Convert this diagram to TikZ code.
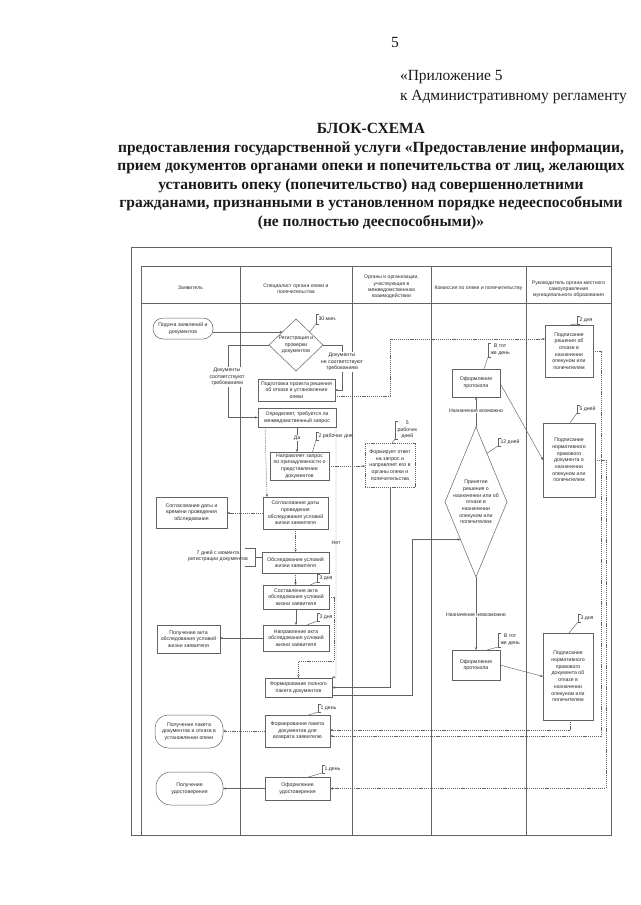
\documentclass[tikz,border=0pt]{standalone}
\usepackage{fontspec}
\setmainfont{Liberation Serif}
\newfontfamily\dsf{Liberation Sans}
\usetikzlibrary{shapes.geometric,arrows.meta,calc}
\definecolor{lc}{HTML}{636363}
\definecolor{tc}{HTML}{2A2A2A}
\definecolor{hc}{HTML}{1A1A1A}
\newcommand\callout[6]{%
  \draw[con] (#2) -- ({#3},{#4+#5});
  \draw[con] ({#3+3},{#4-#5}) -- ({#3},{#4-#5}) -- ({#3},{#4+#5}) -- ({#3+3},{#4+#5});
  \node[dtext, anchor=west] (#1) at ({#3+2.5},{#4}) {#6};
}
\begin{document}
\begin{tikzpicture}[x=1pt,y=-1pt,
  every node/.style={inner sep=0pt, outer sep=0pt},
  dtext/.style={font=\dsf\fontsize{5.2}{6.7}\selectfont, text=tc, align=center},
  hdr/.style={font=\dsf\fontsize{5.1}{6.2}\selectfont, text=tc, align=center},
  box/.style={dtext, draw=lc, line width=0.5pt, rectangle},
  rbox/.style={box, rounded corners=9pt},
  dia/.style={draw=lc, line width=0.5pt, diamond, inner sep=0pt},
  con/.style={draw=lc, line width=0.45pt},
  arr/.style={con, -{Stealth[length=3pt,width=2.4pt]}},
  dotc/.style={dash pattern=on 1.2pt off 0.9pt},
  lbl/.style={dtext, fill=white, inner sep=0.6pt},
  frame/.style={draw=lc, line width=0.6pt},
]
\fill[white] (0,0) rectangle (640,905);
\useasboundingbox (0,0) rectangle (640,905);

% header
\node[font=\fontsize{15.5}{18}\selectfont, text=hc] (pg) at (395,42) {5};
\node[font=\fontsize{15.5}{20}\selectfont, text=hc, align=left, anchor=west] (app) at (400,87) {«Приложение 5\\к Административному регламенту};
\node[font=\bfseries\fontsize{15.5}{18.6}\selectfont, text=hc, align=center] (title) at (371,176.5) {БЛОК-СХЕМА\\предоставления государственной услуги «Предоставление информации,\\прием документов органами опеки и попечительства от лиц, желающих\\установить опеку (попечительство) над совершеннолетними\\гражданами, признанными в установленном порядке недееспособными\\(не полностью дееспособными)»};

% frame and table
\draw[frame] (131,247) rectangle (611,835);
\draw[frame] (141,266) -- (141,835);
\draw[frame] (141,266) -- (611,266);
\draw[frame] (141,303) -- (611,303);
\foreach \cx in {240,352,431,526} \draw[frame] (\cx,266) -- (\cx,835);

\node[hdr] (h1) at (190.5,288) {Заявитель};
\node[hdr] (h2) at (296,289) {Специалист органа опеки и\\попечительства};
\node[hdr] (h3) at (391.5,287) {Органы и организации,\\участвующие в\\межведомственном\\взаимодействии};
\node[hdr] (h4) at (478.5,288) {Комиссия по опеке и попечительству};
\node[hdr] (h5) at (568.5,289) {Руководитель органа местного\\самоуправления\\муниципального образования};

% nodes
\node[rbox, rounded corners=10pt, minimum width=60, minimum height=21] (sub) at (183,328.5) {Подача заявлений и\\документов};
\node[dia, minimum width=54, minimum height=52] (reg) at (296,345) {};
\node[dtext] (regt) at (296,345) {Регистрация и\\проверки\\документов};
\node[box, minimum width=77, minimum height=22] (refp) at (296.5,390) {Подготовка проекта решения\\об отказе в установлении\\опеки};
\node[box, minimum width=78, minimum height=19] (det) at (297,417.5) {Определяет, требуется ли\\межведомственный запрос};
\node[box, minimum width=59, minimum height=28] (req) at (299.5,466) {Направляет запрос\\по принадлежности о\\представлении\\документов};
\node[box, dotc, minimum width=50, minimum height=44] (resp) at (390,465) {Формирует ответ\\на запрос и\\направляет его в\\органы опеки и\\попечительства};
\node[box, minimum width=65, minimum height=32] (agr) at (295.5,513) {Согласование даты\\проведения\\обследования условий\\жизни заявителя};
\node[box, minimum width=71, minimum height=31] (agr1) at (191.5,512.5) {Согласование даты и\\времени проведения\\обследования};
\node[box, minimum width=67, minimum height=21] (insp) at (295.5,562.5) {Обследование условий\\жизни заявителя};
\node[box, minimum width=66, minimum height=24] (act) at (296,597) {Составление акта\\обследования условий\\жизни заявителя};
\node[box, minimum width=66, minimum height=26] (send) at (296,638) {Направление акта\\обследования условий\\жизни заявителя};
\node[box, minimum width=63, minimum height=28] (gact) at (188.5,639) {Получение акта\\обследования условий\\жизни заявителя};
\node[box, minimum width=67, minimum height=19] (full) at (298.5,687.5) {Формирование полного\\пакета документов};
\node[box, minimum width=65, minimum height=32] (ret) at (297.5,731) {Формирование пакета\\документов для\\возврата заявителю};
\node[rbox, rounded corners=13pt, minimum width=68, minimum height=33] (gret) at (189,731.5) {Получение пакета\\документов и отказа в\\установлении опеки};
\node[box, minimum width=65, minimum height=23] (cert) at (297.5,788.5) {Оформление\\удостоверения};
\node[rbox, rounded corners=15pt, minimum width=67, minimum height=33] (gcert) at (189.5,788.5) {Получение\\удостоверения};
\node[box, minimum width=48, minimum height=28] (prot1) at (476,383) {Оформление\\протокола};
\node[dia, minimum width=62, minimum height=150] (dec) at (476,502) {};
\node[dtext] (dect) at (476,502) {Принятие\\решения о\\назначении или об\\отказе в\\назначении\\опекуном или\\попечителем};
\node[box, minimum width=48, minimum height=30] (prot2) at (476,665) {Оформление\\протокола};
\node[box, minimum width=48, minimum height=52] (sign1) at (569,351) {Подписание\\решения об\\отказе в\\назначении\\опекуном или\\попечителем};
\node[box, minimum width=52, minimum height=74] (sign2) at (569,460) {Подписание\\нормативного\\правового\\документа о\\назначении\\опекуном или\\попечителем};
\node[box, minimum width=50, minimum height=87] (sign3) at (568,676.5) {Подписание\\нормативного\\правового\\документа об\\отказе в\\назначении\\опекуном или\\попечителем};

% connectors
\draw[arr] (sub.east |- reg.north west) -- (reg.north west);
\draw[arr] (reg.west) -- ++(-41,0) |- (det.west);
\draw[arr] (reg.east) -- ++(19,0) |- (refp.east);
\draw[arr,dotc] ([yshift=-6pt]refp.east) -- ++(55,0) |- ([yshift=12pt]sign1.west);
\draw[arr] (det.south) -- (det.south |- req.north);
\draw[arr,dotc] ([xshift=-32pt]det.south) -- ([xshift=-28.5pt]agr.north);
\draw[arr,dotc] (det.south east) -- ++(0,250) -- ([yshift=10pt]full.east);
\draw[arr,dotc] (req.east) -- (req.east -| resp.west);
\draw[arr] (resp.south) |- (full.east);
\draw[arr,dotc] (agr.west) -- (agr.west -| agr1.east);
\draw[arr,dotc] (agr.south) -- (agr.south |- insp.north);
\draw[arr,dotc] (insp.south) -- (insp.south |- act.north);
\draw[arr] (act.south) -- (act.south |- send.north);
\draw[arr] (send.west) -- (send.west -| gact.east);
\draw[arr,dotc] (act.east) -- ++(5,0) -- ++(0,64) -| (full.north);
\draw[arr] ([yshift=-7.5pt]full.east) -- ++(80,0) |- (dec.south west);
\draw[arr,dotc] (ret.west) -- (ret.west -| gret.east);
\draw[arr] (cert.west) -- (cert.west -| gcert.east);
\draw[arr] (dec.north) -- (prot1.south);
\draw[arr] (dec.south) -- (prot2.north);
\draw[arr] (prot1.east) -- (sign2.west);
\draw[arr] (prot2.east) -- (sign3.west);
\draw[arr,dotc] (sign1.east) -- ++(8,0) |- ([yshift=-5pt]ret.east);
\draw[arr,dotc] ([xshift=2pt]sign3.south) |- ([yshift=1pt]ret.east);
\draw[arr,dotc] (sign2.east) -- ++(11,0) |- (cert.east);

% labels on connectors
\node[lbl] (lyes) at (227,377) {Документы\\соответствуют\\требованиям};
\node[lbl] (lno) at (342,362) {Документы\\не соответствуют\\требованиям};
\node[lbl] (lda) at (297,438) {Да};
\node[lbl] (lnet) at (336,543) {Нет};
\node[lbl] (lpos) at (476,411) {Назначение возможно};
\node[lbl] (limp) at (476,615) {Назначение невозможно};

% time notes
\callout{n30}{reg.north east}{316}{319}{5}{30 мин.}
\callout{n2rd}{[xshift=13pt]req.north}{316}{436}{4}{2 рабочих дня}
\callout{n5rd}{[xshift=2pt]resp.north}{395}{430}{9}{5\\рабочих\\дней}
\draw[con] ([yshift=5pt]insp.west) -- (255,557.5);
\draw[con] (245,548) -- (255,548) -- (255,566) -- (245,566);
\node[dtext] (n7) at (218,556) {7 дней с момента\\регистрации документов};
\callout{n3a}{[xshift=14pt]act.north}{317}{578}{4}{3 дня}
\callout{n3b}{[xshift=11pt]send.north}{317}{617}{4}{3 дня}
\callout{n1a}{[xshift=11pt]ret.north}{318}{708}{4}{1 день}
\callout{n1b}{[xshift=11pt]cert.north}{322}{769}{4}{1 день}
\callout{nvt1}{[xshift=8pt]prot1.north}{488}{350}{7}{В тот\\же день}
\callout{n12}{$(dec.north)!0.35!(dec.east)$}{498}{442}{4}{12 дней}
\callout{nvt2}{[xshift=11pt]prot2.north}{498}{640}{7}{В тот\\же день}
\callout{n2d}{[xshift=1pt]sign1.north}{577}{320}{4}{2 дня}
\callout{n5d}{[xshift=1pt]sign2.north}{577}{409}{4}{5 дней}
\callout{n3d}{[xshift=1pt]sign3.north}{578}{618}{4}{3 дня}
\end{tikzpicture}
\end{document}
